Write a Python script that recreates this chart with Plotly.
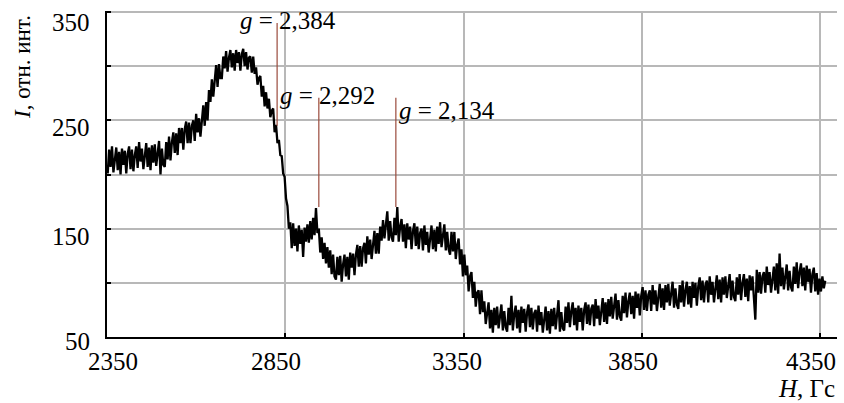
import numpy as np
import plotly.graph_objects as go

# ---------------- data ----------------
H_START = 2352
H_STEP = 4
intensity = [
    201, 223, 207, 226, 202, 217, 225, 204, 221, 200, 224, 209, 222, 201, 219, 226, 205, 223, 203, 218,
    226, 206, 230, 212, 224, 205, 220, 229, 207, 225, 204, 227, 211, 228, 208, 221, 231, 200, 224, 209,
    207, 230, 214, 235, 213, 230, 239, 220, 238, 218, 243, 229, 243, 223, 242, 249, 229, 248, 229, 245,
    250, 231, 256, 239, 252, 235, 252, 264, 245, 267, 250, 278, 267, 288, 272, 289, 301, 281, 302, 289,
    289, 309, 298, 314, 295, 308, 315, 299, 312, 296, 315, 303, 313, 296, 311, 316, 300, 313, 297, 308,
    309, 294, 309, 293, 299, 283, 289, 291, 272, 282, 263, 276, 261, 270, 253, 259, 261, 239, 246, 229,
    232, 218, 217, 201, 198, 178, 171, 150, 156, 132, 155, 134, 150, 129, 153, 136, 149, 124, 151, 138,
    154, 137, 157, 140, 160, 144, 169, 146, 150, 128, 142, 122, 137, 118, 133, 114, 130, 108, 126, 106,
    103, 124, 107, 125, 101, 117, 126, 106, 124, 103, 128, 114, 127, 107, 126, 135, 115, 134, 115, 132,
    137, 118, 143, 126, 140, 122, 138, 148, 127, 146, 127, 152, 139, 158, 141, 154, 166, 139, 157, 142,
    138, 160, 144, 170, 138, 152, 159, 138, 154, 132, 155, 140, 152, 131, 148, 155, 134, 152, 131, 146,
    150, 130, 153, 135, 147, 128, 144, 153, 131, 149, 129, 152, 136, 156, 133, 146, 154, 130, 147, 131,
    126, 147, 129, 147, 122, 135, 141, 117, 131, 106, 126, 107, 116, 92, 106, 110, 86, 101, 78, 91,
    93, 71, 93, 73, 83, 62, 75, 82, 58, 75, 54, 77, 61, 78, 58, 71, 80, 56, 74, 59,
    55, 77, 61, 88, 56, 71, 79, 58, 75, 54, 78, 63, 76, 55, 73, 80, 59, 77, 57, 72,
    75, 55, 79, 61, 73, 54, 69, 78, 56, 74, 53, 76, 60, 77, 57, 70, 84, 55, 73, 58,
    56, 78, 63, 82, 59, 74, 82, 61, 77, 56, 79, 64, 77, 56, 75, 82, 62, 80, 61, 76,
    80, 60, 85, 67, 79, 61, 76, 86, 64, 82, 62, 85, 69, 87, 67, 80, 90, 66, 84, 69,
    65, 88, 72, 91, 68, 83, 91, 71, 88, 67, 92, 77, 90, 70, 88, 96, 75, 93, 74, 89,
    93, 74, 98, 80, 93, 74, 89, 99, 77, 95, 75, 98, 82, 99, 79, 92, 101, 77, 95, 80,
    76, 98, 82, 102, 78, 93, 101, 80, 97, 77, 101, 86, 100, 79, 97, 105, 84, 102, 82, 98,
    102, 82, 106, 89, 101, 82, 97, 107, 85, 103, 82, 105, 89, 106, 86, 99, 108, 84, 102, 87,
    83, 105, 89, 108, 84, 100, 108, 87, 104, 83, 107, 93, 106, 86, 66, 112, 91, 110, 90, 106,
    110, 91, 115, 98, 110, 91, 106, 115, 93, 118, 90, 127, 97, 114, 94, 107, 117, 93, 111, 96,
    92, 115, 99, 119, 95, 110, 118, 97, 114, 93, 116, 101, 113, 91, 108, 114, 92, 109, 89, 104,
    92, 106, 95, 102,
]
field = H_START + H_STEP * np.arange(len(intensity))

g_labels = ["2,384", "2,292", "2,134"]
g_field = [2827, 2944, 3160]
g_top = [340, 271, 271]
g_bottom = [245, 170, 170]
g_label_x = [2717, 2830, 3163]
g_label_y = [342, 273, 259]

x_ticks = [2350, 2850, 3350, 3850, 4350]
y_ticks = [50, 150, 250, 350]
y_grid = [50, 100, 150, 200, 250, 300, 350]

# ---------------- style ----------------
FONT = "Liberation Serif"
L, R, T, B = 107, 7, 11, 66
W, HGT = 844, 403
PW, PH = W - L - R, HGT - T - B
XR = [2350, 4397]
YR = [50, 351]
GRID = "#b8b8b8"
MARK = "#9a4a3c"

fig = go.Figure()
fig.add_trace(go.Scatter(x=field, y=intensity, mode="lines",
                         line=dict(color="black", width=2.3), showlegend=False))

for gx, gt, gb in zip(g_field, g_top, g_bottom):
    fig.add_trace(go.Scatter(x=[gx, gx], y=[gb, gt], mode="lines",
                             line=dict(color=MARK, width=1.2), showlegend=False))

ann = []
for lab, lx, ly in zip(g_labels, g_label_x, g_label_y):
    ann.append(dict(x=lx, y=ly, xref="x", yref="y", text="<i>g</i> = " + lab,
                    showarrow=False, xanchor="left", yanchor="middle",
                    font=dict(family=FONT, size=25, color="black")))

x_shift = [6, -9, -7, -9, -9]
for v, s in zip(x_ticks, x_shift):
    ann.append(dict(x=v, y=(337 - 361) / PH, xref="x", yref="paper", text=str(v),
                    showarrow=False, xanchor="center", yanchor="middle", xshift=s,
                    font=dict(family=FONT, size=25, color="black")))

y_shift = [-4, -8, -7, -10]
for v, s in zip(y_ticks, y_shift):
    ann.append(dict(x=(92 - L) / PW, y=v, xref="paper", yref="y", text=str(v),
                    showarrow=False, xanchor="right", yanchor="middle", yshift=s,
                    font=dict(family=FONT, size=25, color="black")))

ann.append(dict(x=(22 - L) / PW, y=(337 - 67) / PH, xref="paper", yref="paper",
                text="<i>I</i>, отн. инт.", textangle=-90, showarrow=False,
                xanchor="center", yanchor="middle",
                font=dict(family=FONT, size=23, color="black")))
ann.append(dict(x=1.0, y=(337 - 388) / PH, xref="paper", yref="paper",
                text="<i>H</i>, Гс", showarrow=False,
                xanchor="right", yanchor="middle",
                font=dict(family=FONT, size=25, color="black")))

fig.update_layout(
    width=W, height=HGT,
    margin=dict(l=L, r=R, t=T, b=B, pad=0),
    paper_bgcolor="white", plot_bgcolor="white",
    annotations=ann,
    xaxis=dict(range=XR, tickvals=x_ticks, showticklabels=False,
               showgrid=True, gridcolor=GRID, gridwidth=1.5,
               showline=True, linecolor="black", linewidth=2,
               ticks="inside", ticklen=4, tickcolor="black", tickwidth=1.5,
               zeroline=False, fixedrange=True),
    yaxis=dict(range=YR, tickvals=y_grid, showticklabels=False,
               showgrid=True, gridcolor=GRID, gridwidth=1.5,
               showline=True, linecolor="black", linewidth=2,
               ticks="inside", ticklen=4, tickcolor="black", tickwidth=1.5,
               zeroline=False, fixedrange=True),
)

fig.write_html("out.html")
